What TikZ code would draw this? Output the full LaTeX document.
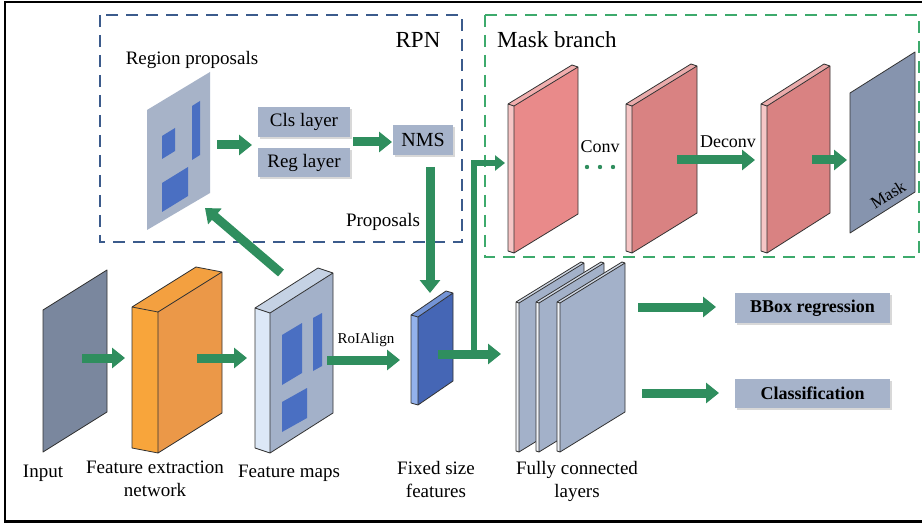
\documentclass[tikz,border=0pt]{standalone}
\usepackage{fontspec}
\setmainfont{Liberation Serif}
\usetikzlibrary{arrows.meta,shadows,calc}

\definecolor{garr}{HTML}{2F8E5E}
\definecolor{rpnc}{HTML}{3B5B8C}
\definecolor{maskc}{HTML}{3DAA6C}
\definecolor{boxc}{HTML}{A6B3CA}
\definecolor{planec}{HTML}{A7B3C8}
\definecolor{bluer}{HTML}{4A6FC2}
\definecolor{inputc}{HTML}{7A879E}
\definecolor{orfront}{HTML}{EB9848}
\definecolor{orside}{HTML}{F8A53B}
\definecolor{fmfront}{HTML}{A3B1C9}
\definecolor{fmside}{HTML}{DCE8F7}
\definecolor{fxfront}{HTML}{4566B5}
\definecolor{fxside}{HTML}{93B2EC}
\definecolor{redA}{HTML}{E98A8A}
\definecolor{redB}{HTML}{D98282}
\definecolor{redside}{HTML}{F6C6C6}
\definecolor{maskp}{HTML}{8694AE}
\definecolor{fcside}{HTML}{EEF2F8}
\definecolor{edgec}{HTML}{333333}

\tikzset{
  edge/.style={draw=edgec, line width=0.8pt, line join=round},
  garrow/.style={draw=garr, line width=9pt, -{Triangle[length=13pt,width=20pt]}},
  gthin/.style={draw=garr, line width=6pt, -{Triangle[length=10pt,width=15pt]}},
  lbox/.style={fill=boxc, inner sep=0pt, font=\fontsize{19}{22}\selectfont,
    drop shadow={shadow xshift=2pt, shadow yshift=-2pt, opacity=0.3}},
  lab/.style={font=\fontsize{19}{23}\selectfont, align=center, inner sep=0pt},
  big/.style={font=\fontsize{23}{26}\selectfont, inner sep=0pt},
  dashbox/.style={line width=2pt, dash pattern=on 12pt off 8pt},
}

\newcommand\slab[9]{%
 \fill[#9] (#1,#2) -- ({#1-#6},{#2-#7}) -- ({#1-#6},{#2+#4-#7}) -- (#1,{#2+#4}) -- cycle;
 \fill[#9!60!#8] (#1,#2) -- ({#1-#6},{#2-#7}) -- ({#1+#3-#6},{#2-#5-#7}) -- ({#1+#3},{#2-#5}) -- cycle;
 \fill[#8] (#1,#2) -- ({#1+#3},{#2-#5}) -- ({#1+#3},{#2-#5+#4}) -- (#1,{#2+#4}) -- cycle;
 \draw[edge] ({#1-#6},{#2-#7}) -- ({#1-#6},{#2+#4-#7}) -- (#1,{#2+#4}) -- ({#1+#3},{#2-#5+#4}) -- ({#1+#3},{#2-#5}) -- ({#1+#3-#6},{#2-#5-#7}) -- ({#1-#6},{#2-#7}) -- (#1,#2) -- ({#1+#3},{#2-#5}) (#1,#2) -- (#1,{#2+#4});
}

\begin{document}
\begin{tikzpicture}[x=1pt,y=-1pt]
\useasboundingbox (0,0) rectangle (922,524);
\fill[white] (0,0) rectangle (922,524);
% outer frame
\draw[line width=2.5pt] (922,2) -- (5,2) -- (5,521.5) -- (922,521.5);

% dashed groups
\draw[dashbox, draw=rpnc] (100,15) rectangle (462,242);
\draw[dashbox, draw=maskc] (485,15) rectangle (919,257);
\node[big] (rpn) at (418,40) {RPN};
\node[big, anchor=west] (mb) at (497,40) {Mask branch};

% region proposals plane
\node[lab] (rp) at (192,60) {Region proposals};
\fill[planec] (147,110) -- (210,72) -- (210,193) -- (147,230) -- cycle;
\fill[bluer] (162,136) -- (175,128) -- (175,151) -- (162,159) -- cycle;
\fill[bluer] (192,106) -- (200,101) -- (200,155) -- (192,160) -- cycle;
\fill[bluer] (162,183) -- (188,167) -- (188,196) -- (162,212) -- cycle;

% RPN boxes
\node[lbox, minimum width=92pt, minimum height=30pt] (cls) at (304,122) {Cls layer};
\node[lbox, minimum width=92pt, minimum height=29pt] (reg) at (304,162.5) {Reg layer};
\node[lbox, minimum width=60pt, minimum height=30pt, font=\fontsize{20}{22}\selectfont] (nms) at (423,140) {NMS};
\node[lab] (prop) at (383,222) {Proposals};

% input plane
\fill[inputc] (43,310) -- (107,270) -- (107,412) -- (43,452) -- cycle;
\draw[edge] (43,310) -- (107,270) -- (107,412) -- (43,452) -- cycle;
% feature extraction network (orange)
\slab{158}{312}{64}{141}{40}{26}{5}{orfront}{orside}
% feature maps
\slab{270}{313}{63}{140}{40}{15}{5}{fmfront}{fmside}
\fill[bluer] (282,335) -- (302,323) -- (302,373) -- (282,385) -- cycle;
\fill[bluer] (313,318) -- (322,313) -- (322,366) -- (313,371) -- cycle;
\fill[bluer] (282,402) -- (307,388) -- (307,418) -- (282,432) -- cycle;
% fixed size features
\slab{418}{317}{35}{88}{24}{7}{2}{fxfront}{fxside}
% fully connected plates
\slab{519}{303}{65}{149}{40}{3}{1}{fmfront}{fcside}
\slab{539}{303}{65}{149}{40}{3}{1}{fmfront}{fcside}
\slab{560}{303}{65}{149}{40}{3}{1}{fmfront}{fcside}

% mask branch layers
\slab{514}{106}{64}{147}{39}{6}{2}{redA}{redside}
\slab{632}{106}{65}{147}{40}{6}{2}{redB}{redside}
\slab{767}{106}{63}{147}{40}{6}{2}{redB}{redside}
\fill[maskp] (850,93) -- (915,52) -- (915,192) -- (850,233) -- cycle;
\draw[edge] (850,93) -- (915,52) -- (915,192) -- (850,233) -- cycle;
\node[rotate=32, font=\fontsize{17}{20}\selectfont, inner sep=0pt] (masklab) at (888,195) {Mask};

\node[font=\fontsize{18}{20}\selectfont, inner sep=0pt] (conv) at (600,147) {Conv};
\node[font=\fontsize{18}{20}\selectfont, inner sep=0pt] (deconv) at (728,142) {Deconv};
\foreach \i/\xx in {1/587,2/600,3/613}{\fill[garr] (\xx,167) circle (2.2pt);}

% output boxes
\node[lbox, minimum width=155pt, minimum height=30pt, font=\bfseries\fontsize{18}{22}\selectfont] (bbox) at (812.5,308) {BBox regression};
\node[lbox, minimum width=155pt, minimum height=29pt, font=\bfseries\fontsize{18}{22}\selectfont] (clsf) at (812.5,393.5) {Classification};

% labels
\node[lab] (linput) at (43,473) {Input};
\node[lab, anchor=north] (lfen) at (155,461) {Feature extraction\\network};
\node[lab] (lfm) at (289,473) {Feature maps};
\node[lab, anchor=north] (lfx) at (436,461) {Fixed size\\features};
\node[lab, anchor=north] (lfc) at (577,461) {Fully connected\\layers};
\node[font=\fontsize{15}{18}\selectfont, inner sep=0pt] (roi) at (366,340) {RoIAlign};

% arrow end points
\coordinate (a1s) at (82,358);   \coordinate (a1e) at (125,358);
\coordinate (a2s) at (197,358);  \coordinate (a2e) at (247,358);
\coordinate (a3s) at (327,360);  \coordinate (a3e) at (400,360);
\coordinate (a4s) at (281,273);  \coordinate (a4e) at (205,208);
\coordinate (a5s) at (217,145);  \coordinate (a5e) at (252,145);
\coordinate (a6s) at (353,142);  \coordinate (a6e) at (392,142);
\coordinate (a7s) at (430,167);  \coordinate (a7e) at (430,293);
\coordinate (a8s) at (438,354);  \coordinate (a8e) at (501,354);
\coordinate (a9s) at (474,352);  \coordinate (a9m) at (474,163); \coordinate (a9e) at (505,163);
\coordinate (a10s) at (677,160); \coordinate (a10e) at (755,160);
\coordinate (a11s) at (812,160); \coordinate (a11e) at (847,160);
\coordinate (a12s) at (638,307); \coordinate (a12e) at (716,307);
\coordinate (a13s) at (642,393); \coordinate (a13e) at (719,393);

\draw[garrow] (a1s) -- (a1e);
\draw[garrow] (a2s) -- (a2e);
\draw[garrow] (a3s) -- (a3e);
\draw[garrow] (a4s) -- (a4e);
\draw[garrow] (a5s) -- (a5e);
\draw[garrow] (a6s) -- (a6e);
\draw[garrow] (a7s) -- (a7e);
\draw[garrow] (a8s) -- (a8e);
\draw[gthin] (a9s) -- (a9m) -- (a9e);
\draw[garrow] (a10s) -- (a10e);
\draw[garrow] (a11s) -- (a11e);
\draw[garrow] (a12s) -- (a12e);
\draw[garrow] (a13s) -- (a13e);
\end{tikzpicture}
\end{document}
